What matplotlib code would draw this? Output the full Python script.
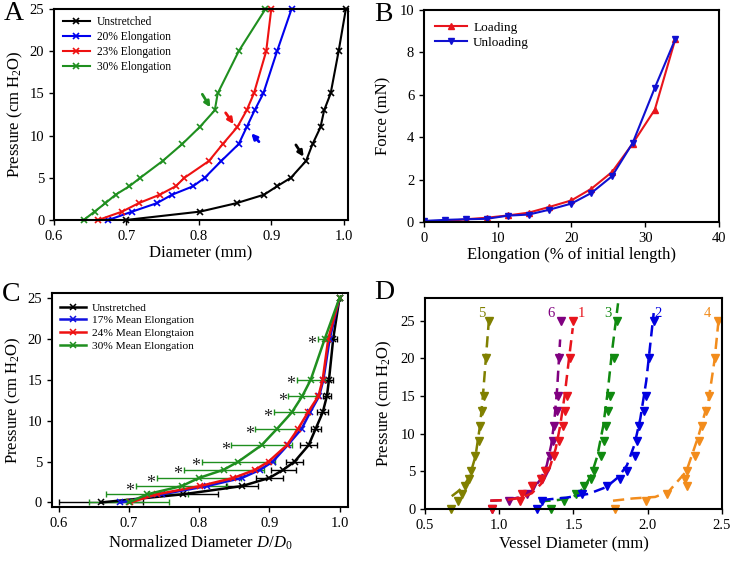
import numpy as np
import matplotlib
matplotlib.use('Agg')
from matplotlib import pyplot as plt

plt.rcParams['font.family'] = ['Liberation Serif', 'DejaVu Serif']
plt.rcParams['mathtext.fontset'] = 'custom'
plt.rcParams['mathtext.rm'] = 'Liberation Serif'
plt.rcParams['mathtext.it'] = 'Liberation Serif:italic'

# ---------------- panel A data ----------------
pA = [0, 1, 2, 3, 4, 5, 7, 9, 11, 13, 15, 20, 25]
dA_unstretched = [0.699, 0.802, 0.852, 0.890, 0.908, 0.927, 0.948, 0.957, 0.968, 0.973, 0.982, 0.993, 1.003]
dA_20 = [0.675, 0.708, 0.742, 0.763, 0.792, 0.808, 0.831, 0.855, 0.866, 0.877, 0.889, 0.908, 0.928]
dA_23 = [0.661, 0.694, 0.717, 0.746, 0.768, 0.780, 0.814, 0.833, 0.853, 0.866, 0.876, 0.893, 0.900]
dA_30 = [0.641, 0.656, 0.671, 0.685, 0.704, 0.719, 0.750, 0.777, 0.801, 0.822, 0.826, 0.855, 0.892]
labelsA = ['Unstretched', '20% Elongation', '23% Elongation', '30% Elongation']

# ---------------- panel B data ----------------
elong_load = [0, 2.9, 5.7, 8.5, 11.4, 14.2, 17.0, 20.0, 22.7, 25.5, 28.3, 31.3, 34.1]
force_load = [0.0, 0.03, 0.13, 0.2, 0.31, 0.44, 0.71, 1.02, 1.57, 2.36, 3.7, 5.3, 8.65]
elong_unload = [0, 2.9, 5.7, 8.5, 11.4, 14.2, 17.0, 20.0, 22.7, 25.5, 28.3, 31.3, 34.1]
force_unload = [0.05, 0.1, 0.13, 0.15, 0.3, 0.35, 0.58, 0.87, 1.37, 2.16, 3.73, 6.33, 8.65]

# ---------------- panel C data ----------------
pC = [0, 1, 2, 3, 4, 5, 7, 9, 11, 13, 15, 20, 25]
dC_unstretched = [0.660, 0.777, 0.861, 0.900, 0.920, 0.936, 0.956, 0.966, 0.976, 0.982, 0.985, 0.991, 1.0]
errC_unstretched = [0.06, 0.05, 0.023, 0.019, 0.018, 0.012, 0.012, 0.007, 0.008, 0.006, 0.005, 0.005, 0.0]
dC_17 = [0.688, 0.747, 0.811, 0.861, 0.887, 0.905, 0.926, 0.946, 0.958, 0.971, 0.977, 0.986, 1.0]
dC_24 = [0.702, 0.740, 0.801, 0.849, 0.880, 0.899, 0.925, 0.941, 0.955, 0.970, 0.976, 0.984, 1.0]
dC_30 = [0.700, 0.726, 0.775, 0.800, 0.835, 0.856, 0.889, 0.911, 0.932, 0.947, 0.959, 0.979, 1.0]
errC_30 = [0.057, 0.058, 0.065, 0.060, 0.057, 0.052, 0.043, 0.031, 0.026, 0.020, 0.020, 0.010, 0.0]
starC = [False, False, True, True, True, True, True, True, True, True, True, True, False]
labelsC = ['Unstretched', '17% Mean Elongation', '24% Mean Elongtaion', '30% Mean Elongation']

# ---------------- panel D data ----------------
pD = [0, 1, 2, 3, 4, 5, 7, 9, 11, 13, 15, 20, 25]
vessel_ids = ['5', '6', '1', '3', '2', '4']
colorsD = ['#808000', '#800080', '#e8141c', '#108a10', '#0000e0', '#f28c1c']
dD = [
    [0.676, 0.719, 0.749, 0.771, 0.796, 0.812, 0.839, 0.862, 0.873, 0.884, 0.896, 0.911, 0.934],
    [0.952, 1.065, 1.189, 1.228, 1.291, 1.318, 1.341, 1.359, 1.370, 1.386, 1.397, 1.404, 1.415],
    [0.952, 1.140, 1.155, 1.220, 1.280, 1.310, 1.370, 1.404, 1.431, 1.445, 1.456, 1.476, 1.494],
    [1.347, 1.433, 1.517, 1.573, 1.619, 1.637, 1.682, 1.705, 1.720, 1.732, 1.743, 1.770, 1.793],
    [1.257, 1.291, 1.555, 1.725, 1.811, 1.863, 1.912, 1.930, 1.942, 1.976, 1.985, 2.007, 2.043],
    [1.777, 1.985, 2.127, 2.263, 2.251, 2.263, 2.315, 2.342, 2.364, 2.394, 2.410, 2.450, 2.473],
]
# dashed fitted curves
fitD_d = [
    [0.68, 0.72, 0.76, 0.80, 0.84, 0.87, 0.89, 0.91, 0.93],
    [0.94, 1.05, 1.15, 1.22, 1.28, 1.32, 1.35, 1.37, 1.39, 1.41],
    [0.94, 1.05, 1.15, 1.22, 1.29, 1.34, 1.38, 1.41, 1.44, 1.47, 1.495],
    [1.27, 1.40, 1.50, 1.57, 1.62, 1.66, 1.70, 1.73, 1.76, 1.80],
    [1.29, 1.45, 1.60, 1.72, 1.80, 1.86, 1.91, 1.95, 1.99, 2.04],
    [1.766, 1.90, 2.05, 2.14, 2.26, 2.34, 2.41, 2.45, 2.475],
]
fitD_p = [
    [1.7, 2.3, 3.0, 4.3, 7.0, 11.0, 15.0, 20.0, 25.0],
    [1.1, 1.2, 1.6, 2.4, 4.0, 5.8, 8.5, 11.5, 16.0, 22.5],
    [1.1, 1.2, 1.5, 2.1, 3.5, 5.5, 8.0, 11.0, 15.0, 20.0, 24.0],
    [1.0, 1.2, 1.6, 2.8, 4.5, 7.0, 11.0, 15.5, 21.0, 27.3],
    [1.2, 1.5, 2.0, 2.9, 4.2, 5.8, 8.5, 12.0, 17.0, 26.0],
    [1.1, 1.4, 1.6, 2.3, 5.0, 9.6, 14.5, 19.8, 24.7],
]
labelD_x = [0.884, 1.347, 1.551, 1.732, 2.07, 2.40]

TICK = 10.5
LAB = 12

fig = plt.figure(figsize=(7.33, 5.61), dpi=100)
axA = fig.add_axes([0.0737, 0.6078, 0.4011, 0.3761])
axB = fig.add_axes([0.5784, 0.6043, 0.4025, 0.3779])
axC = fig.add_axes([0.0709, 0.0963, 0.4038, 0.3815])
axD = fig.add_axes([0.5798, 0.0927, 0.4052, 0.3761])

for ax in [axA, axB, axC, axD]:
    for s in ax.spines.values():
        s.set_linewidth(1.5)
    ax.tick_params(direction='out', length=3.5, width=1, labelsize=TICK, top=False, right=False)

# ---------------- A ----------------
colA = ['black', '#0000ee', '#ee1111', '#1f8f1f']
for d, c, lab in zip([dA_unstretched, dA_20, dA_23, dA_30], colA, labelsA):
    axA.plot(d, pA, color=c, lw=1.5, marker='x', ms=4, mew=1.2, label=lab, clip_on=False)
axA.set_xlim(0.6, 1.006)
axA.set_ylim(0, 25)
axA.set_xticks([0.6, 0.7, 0.8, 0.9, 1.0])
axA.set_xticklabels(['0.6', '0.7', '0.8', '0.9', '1.0'])
axA.set_yticks([0, 5, 10, 15, 20, 25])
axA.set_xlabel('Diameter (mm)', fontsize=LAB, labelpad=2)
axA.set_ylabel('Pressure (cm H$_2$O)', fontsize=LAB, labelpad=3)
axA.legend(loc='upper left', bbox_to_anchor=(0.031, 0.965), frameon=False, fontsize=8.3,
           handlelength=2.3, handletextpad=0.6, labelspacing=0.26, borderpad=0, borderaxespad=0)
arrowsA = [((0.8048, 14.9), (0.8158, 13.35), colA[3]),
           ((0.837, 12.7), (0.848, 11.37), colA[2]),
           ((0.883, 9.28), (0.8724, 10.27), colA[1]),
           ((0.934, 8.9), (0.9447, 7.5), colA[0])]
for tail, head, c in arrowsA:
    axA.annotate('', xy=head, xytext=tail,
                 arrowprops=dict(arrowstyle='-|>', color=c, lw=2.0, mutation_scale=8,
                                 shrinkA=0, shrinkB=0))

# ---------------- B ----------------
axB.plot(elong_load, force_load, color='#e8141c', lw=1.5, marker='^', ms=4, label='Loading')
axB.plot(elong_unload, force_unload, color='#1010d0', lw=1.5, marker='v', ms=4, label='Unloading')
axB.set_xlim(0, 40)
axB.set_ylim(0, 10)
axB.set_xticks([0, 10, 20, 30, 40])
axB.set_yticks([0, 2, 4, 6, 8, 10])
axB.set_xlabel('Elongation (% of initial length)', fontsize=LAB, labelpad=2)
axB.set_ylabel('Force (mN)', fontsize=LAB, labelpad=6)
axB.legend(loc='upper left', bbox_to_anchor=(0.037, 0.945), frameon=False, fontsize=9.5,
           handlelength=2.4, handletextpad=0.5, labelspacing=0.21, borderpad=0, borderaxespad=0)

# ---------------- C ----------------
axC.errorbar(dC_unstretched, pC, xerr=errC_unstretched, fmt='none', ecolor='black',
             elinewidth=1, capsize=2.5, capthick=1, zorder=2)
axC.errorbar(dC_30, pC, xerr=errC_30, fmt='none', ecolor='#1f8f1f',
             elinewidth=1, capsize=2.5, capthick=1, zorder=2)
colC = ['black', '#1010e0', '#ee1111', '#1f8f1f']
for d, c, lab in zip([dC_unstretched, dC_17, dC_24, dC_30], colC, labelsC):
    axC.plot(d, pC, color=c, lw=1.8, marker='x', ms=4, mew=1.1, label=lab, zorder=3)
for d, e, p, s in zip(dC_30, errC_30, pC, starC):
    if s:
        axC.annotate('*', xy=(d - e, p), xytext=(-1.0, -7.0), textcoords='offset points',
                     ha='right', va='baseline', fontsize=13, color='#222222')
axC.set_xlim(0.5905, 1.012)
axC.set_ylim(-0.55, 25.6)
axC.set_xticks([0.6, 0.7, 0.8, 0.9, 1.0])
axC.set_xticklabels(['0.6', '0.7', '0.8', '0.9', '1.0'])
axC.set_yticks([0, 5, 10, 15, 20, 25])
axC.set_xlabel('Normalized Diameter $D/D_0$', fontsize=LAB, labelpad=3)
axC.set_ylabel('Pressure (cm H$_2$O)', fontsize=LAB, labelpad=3)
axC.legend(loc='upper left', bbox_to_anchor=(0.027, 0.955), frameon=False, fontsize=8.2,
           handlelength=2.3, handletextpad=0.5, labelspacing=0.25, borderpad=0, borderaxespad=0)

# ---------------- D ----------------
for d, fd, fp, c, vid, lx in zip(dD, fitD_d, fitD_p, colorsD, vessel_ids, labelD_x):
    axD.plot(fd, fp, color=c, lw=1.8, ls=(0, (4.5, 2.5)))
    axD.plot(d, pD, ls='none', marker='v', ms=5.5, color=c, clip_on=False)
    axD.text(lx, 26.0, vid, color=c, fontsize=10.5, ha='center', va='center')
axD.set_xlim(0.5, 2.5)
axD.set_ylim(0, 28)
axD.set_xticks([0.5, 1.0, 1.5, 2.0, 2.5])
axD.set_xticklabels(['0.5', '1.0', '1.5', '2.0', '2.5'])
axD.set_yticks([0, 5, 10, 15, 20, 25])
axD.set_xlabel('Vessel Diameter (mm)', fontsize=LAB, labelpad=3)
axD.set_ylabel('Pressure (cm H$_2$O)', fontsize=LAB, labelpad=5)

# panel letters
for lt, x, y in [('A', 4, 1), ('B', 374, 2), ('C', 2, 282), ('D', 374, 280)]:
    fig.text(x / 733, 1 - y / 561, lt, fontsize=20, ha='left', va='top')

fig.savefig('out.png', dpi=100)
